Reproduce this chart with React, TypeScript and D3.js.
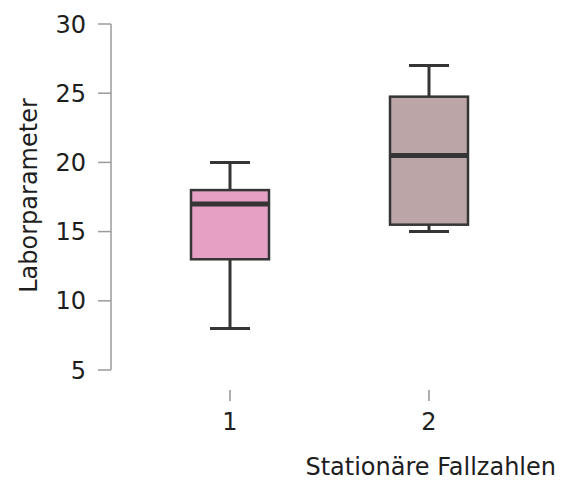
import React from "react";
import * as d3 from "d3";

const groups = ["1", "2"];
const whiskerLow = [8, 15];
const q1 = [13, 15.5];
const medians = [17, 20.5];
const q3 = [18, 24.75];
const whiskerHigh = [20, 27];
const fills = ["#e5a0c3", "#bca5a7"];
const yTicks = [5, 10, 15, 20, 25, 30];

const W = 561;
const H = 481;
const FONT = "'DejaVu Sans', sans-serif";

export default function App() {
	const y = d3.scaleLinear().domain([5, 30]).range([370, 24]);
	const x = d3.scalePoint().domain(groups).range([230, 429]);
	const boxW = 78;
	const capW = 40;
	const axisX = 111;

	return (
		<svg width={W} height={H} style={{ position: "absolute", left: 0, top: 0 }}>
			<rect width={W} height={H} fill="#fff" />
			{/* y axis */}
			<g stroke="#9a9a9a" strokeWidth={1.5} fill="none">
				<line x1={axisX} x2={axisX} y1={y(30)} y2={y(5)} />
				{yTicks.map((t) => (
					<line key={t} x1={axisX - 13} x2={axisX} y1={y(t)} y2={y(t)} />
				))}
			</g>
			{yTicks.map((t) => (
				<text
					key={t}
					x={86}
					y={y(t)}
					dy="0.36em"
					textAnchor="end"
					fontFamily={FONT}
					fontSize={24}
					fill="#1e1e1e"
				>
					{t}
				</text>
			))}
			<text
				transform={`translate(37,195.5) rotate(-90)`}
				textAnchor="middle"
				fontFamily={FONT}
				fontSize={24}
				fill="#1e1e1e"
			>
				Laborparameter
			</text>
			{/* x ticks */}
			{groups.map((g) => (
				<g key={g}>
					<line x1={x(g)} x2={x(g)} y1={390} y2={401} stroke="#777" strokeWidth={1.2} />
					<text x={x(g)} y={430} textAnchor="middle" fontFamily={FONT} fontSize={24} fill="#1e1e1e">
						{g}
					</text>
				</g>
			))}
			<text x={556} y={475} textAnchor="end" fontFamily={FONT} fontSize={24} fill="#1e1e1e">
				Stationäre Fallzahlen
			</text>
			{/* boxes */}
			{groups.map((g, i) => {
				const cx = x(g) as number;
				return (
					<g key={g} stroke="#353535">
						<line x1={cx} x2={cx} y1={y(whiskerHigh[i])} y2={y(q3[i])} strokeWidth={3} />
						<line x1={cx} x2={cx} y1={y(q1[i])} y2={y(whiskerLow[i])} strokeWidth={3} />
						<line x1={cx - capW / 2} x2={cx + capW / 2} y1={y(whiskerHigh[i])} y2={y(whiskerHigh[i])} strokeWidth={3} />
						<line x1={cx - capW / 2} x2={cx + capW / 2} y1={y(whiskerLow[i])} y2={y(whiskerLow[i])} strokeWidth={3} />
						<rect
							x={cx - boxW / 2}
							y={y(q3[i])}
							width={boxW}
							height={y(q1[i]) - y(q3[i])}
							fill={fills[i]}
							strokeWidth={2.5}
						/>
						<line x1={cx - boxW / 2} x2={cx + boxW / 2} y1={y(medians[i])} y2={y(medians[i])} strokeWidth={5} />
					</g>
				);
			})}
		</svg>
	);
}
